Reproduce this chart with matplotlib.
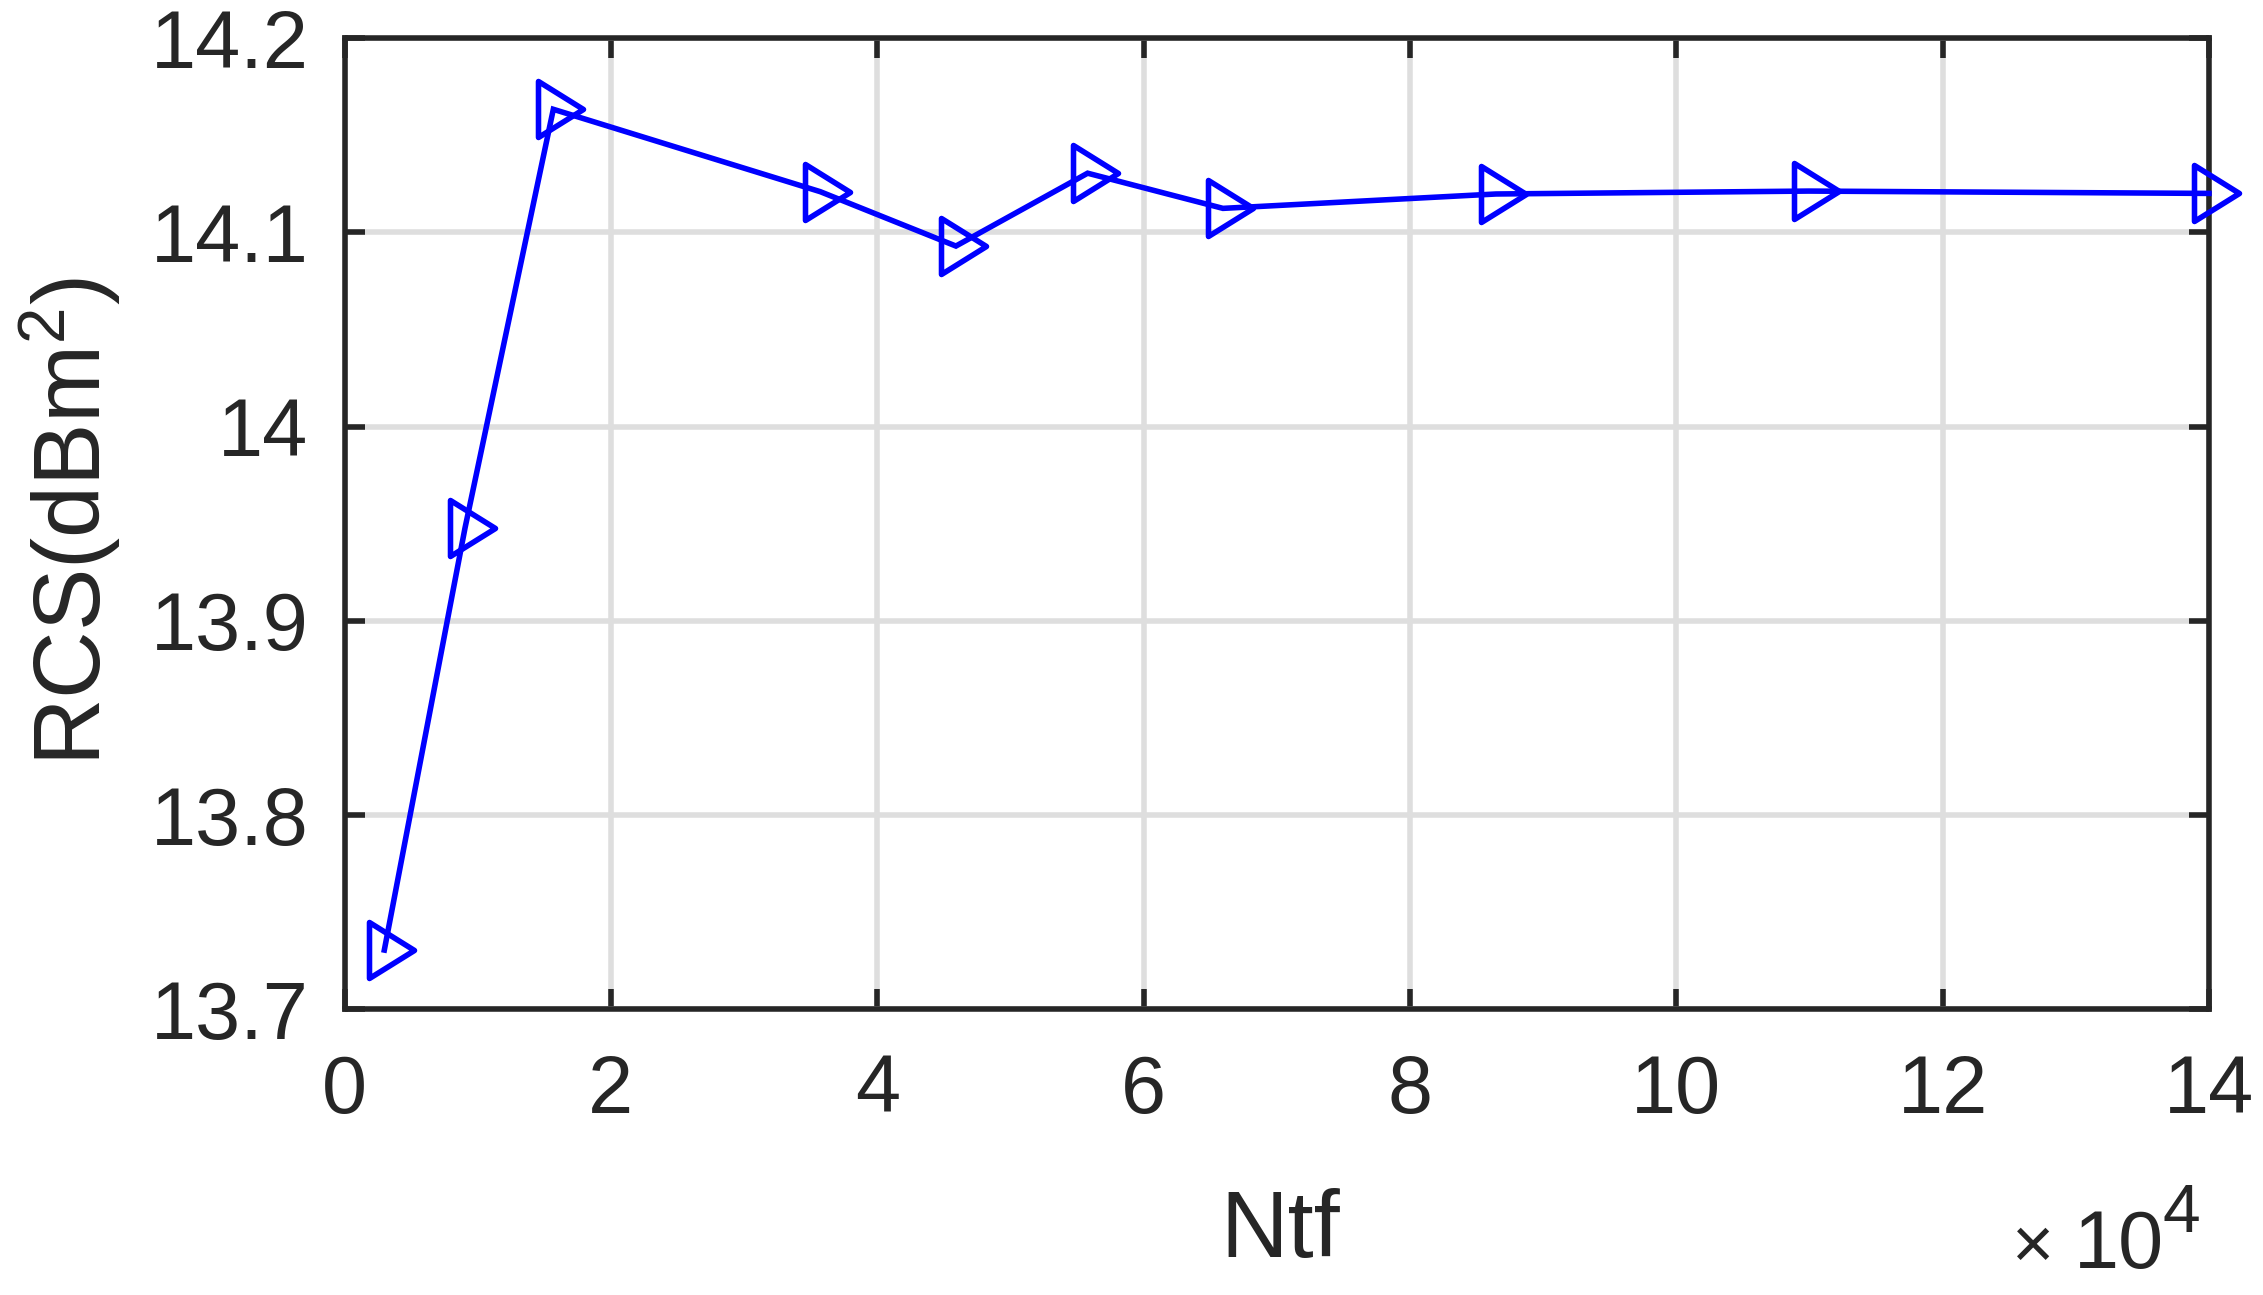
import matplotlib
matplotlib.use("Agg")
import matplotlib.pyplot as plt
from matplotlib.path import Path
from matplotlib.ticker import FuncFormatter, FixedLocator
import numpy as np

# ---- data ----
ntf = [2990, 9050, 15680, 35720, 45910, 55800, 65960, 86460, 109940, 140000]
rcs = [13.7305, 13.9478, 14.1633, 14.1209, 14.0929, 14.1304, 14.1123, 14.1197, 14.1212, 14.1200]
xtick_vals = [0, 20000, 40000, 60000, 80000, 100000, 120000, 140000]
xtick_labels = ["0", "2", "4", "6", "8", "10", "12", "14"]
ytick_vals = [13.7, 13.8, 13.9, 14.0, 14.1, 14.2]
ytick_labels = ["13.7", "13.8", "13.9", "14", "14.1", "14.2"]
xlabel_text = "Ntf"
ylabel_text = r"RCS(dBm$^{2}$)"

plt.rcParams["font.family"] = ["Liberation Sans", "DejaVu Sans"]
plt.rcParams["mathtext.fontset"] = "custom"
plt.rcParams["mathtext.rm"] = "Liberation Sans"
plt.rcParams["mathtext.it"] = "Liberation Sans"
plt.rcParams["mathtext.bf"] = "Liberation Sans:bold"

W, H = 2263, 1295
DPI = 200
fig = plt.figure(figsize=(W / DPI, H / DPI), dpi=DPI)
ax = fig.add_axes([344.5 / W, 1 - 1009.3 / H, (2209 - 344.5) / W, (1009.3 - 38) / H])

dark = "#262626"
blue = "#0000ff"

# MATLAB-like '>' marker centred on its centroid
tri = Path([(-15, 28), (30, 0), (-15, -28), (-15, 28)],
           [Path.MOVETO, Path.LINETO, Path.LINETO, Path.CLOSEPOLY])

ax.plot(ntf, rcs, color=blue, lw=2.0, marker=tri, markersize=21.6,
        markerfacecolor="none", markeredgecolor=blue, markeredgewidth=2.0,
        clip_on=False, zorder=3, solid_joinstyle="miter")

ax.set_xlim(0, 140000)
ax.set_ylim(13.7, 14.2)
ax.xaxis.set_major_locator(FixedLocator(xtick_vals))
ax.set_xticklabels(xtick_labels)
ax.yaxis.set_major_locator(FixedLocator(ytick_vals))
ax.set_yticklabels(ytick_labels)

ax.grid(True, color="#dedede", lw=2.0)
ax.set_axisbelow(True)
for s in ax.spines.values():
    s.set_linewidth(2.0)
    s.set_color(dark)
ax.tick_params(direction="in", length=7.2, width=2.0, color=dark,
               top=True, right=True, labelsize=29.2, labelcolor=dark)
ax.tick_params(axis="x", pad=16)
ax.tick_params(axis="y", pad=13)

fig.text(1280 / W, 1 - 1257 / H, xlabel_text, fontsize=33.7, color=dark,
         ha="center", va="baseline")
fig.text(70 / W, 524 / H * 0 + (1 - 522 / H), ylabel_text, fontsize=33.7, color=dark,
         ha="center", va="center", rotation=90)

# x10^4 multiplier
fig.text(2012 / W, 1 - 1268.3 / H, "\u00d7", fontsize=26, color=dark, ha="left", va="baseline")
fig.text(2074 / W, 1 - 1268.3 / H, "10", fontsize=29.2, color=dark, ha="left", va="baseline")
fig.text(2162 / W, 1 - 1231.7 / H, "4", fontsize=24.5, color=dark, ha="left", va="baseline")

fig.savefig("out.png", dpi=DPI, facecolor="white")
